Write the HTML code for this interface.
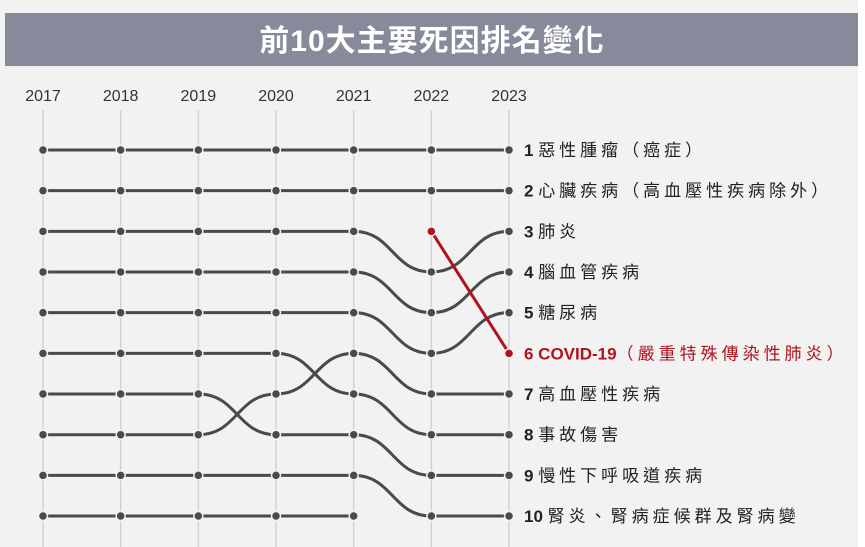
<!DOCTYPE html>
<html><head><meta charset="utf-8"><style>
html,body{margin:0;padding:0;background:#fff;}
svg{display:block;font-family:"Liberation Sans","Noto Sans CJK TC",sans-serif;}
</style></head><body>
<svg id="chart" width="865" height="547" viewBox="0 0 865 547">
<rect x="0" y="0" width="858" height="547" fill="#f2f2f2"/>
<rect x="5" y="13" width="853" height="53" fill="#878a9a"/>
<text x="432" y="51" text-anchor="middle" fill="#fff" font-size="30" font-weight="bold" letter-spacing="1" font-family="'Liberation Sans','Noto Sans CJK TC',sans-serif">前10大主要死因排名變化</text>
<g id="grid"></g><g id="lines"></g><g id="dots"></g><g id="labels"></g>
</svg>
<script>
const years = ["2017","2018","2019","2020","2021","2022","2023"];
const cancer = [1,1,1,1,1,1,1];
const heart = [2,2,2,2,2,2,2];
const pneumonia = [3,3,3,3,3,4,3];
const stroke = [4,4,4,4,4,5,4];
const diabetes = [5,5,5,5,5,6,5];
const accident = [6,6,6,6,7,8,8];
const chronicResp = [7,7,7,8,8,9,9];
const hypertension = [8,8,8,7,6,7,7];
const kidney = [9,9,9,9,9,10,10];
const liver = [10,10,10,10,10,null,null];
const covid = [null,null,null,null,null,3,6];
const labelNames = ["惡性腫瘤（癌症）","心臟疾病（高血壓性疾病除外）","肺炎","腦血管疾病","糖尿病","COVID-19（嚴重特殊傳染性肺炎）","高血壓性疾病","事故傷害","慢性下呼吸道疾病","腎炎、腎病症候群及腎病變"];
const seriesNames = ["cancer","heart","pneumonia","stroke","diabetes","accident","chronic-resp","hypertension","kidney","liver","covid"];
const seriesList = [cancer,heart,pneumonia,stroke,diabetes,accident,chronicResp,hypertension,kidney,liver,covid];

const NS="http://www.w3.org/2000/svg";
const x0=43, dx=77.67, y0=150, dy=40.67;
function xs(i){return x0+i*dx;}
function ys(r){return y0+(r-1)*dy;}
function mk(tag,attrs,parent){const e=document.createElementNS(NS,tag);for(const k in attrs)e.setAttribute(k,attrs[k]);parent.appendChild(e);return e;}
const grid=document.getElementById('grid'),lines=document.getElementById('lines'),dots=document.getElementById('dots'),labels=document.getElementById('labels');

years.forEach((y,i)=>{
  const l=mk('line',{x1:xs(i),x2:xs(i),y1:110,y2:547,stroke:'#d2d2d2','stroke-width':1.5},grid);
  
  
  const t=mk('text',{x:xs(i),y:101,'text-anchor':'middle','font-size':16,fill:'#333'},grid);
  t.textContent=y;
  
  
});

seriesList.forEach((s,si)=>{
  const color = seriesNames[si]==='covid' ? '#b0131d' : '#4a4a4a';
  let d='';
  let prev=null;
  s.forEach((r,i)=>{
    if(r==null){prev=null;return;}
    const x=xs(i),y=ys(r);
    if(prev==null){d+=`M${x},${y}`;}
    else if(seriesNames[si]==='covid'){d+=` L${x},${y}`;}
    else{const px=xs(i-1),py=ys(prev),mx=(px+x)/2;d+=` C${mx},${py} ${mx},${y} ${x},${y}`;}
    prev=r;
  });
  const p=mk('path',{d:d,fill:'none',stroke:color,'stroke-width':3},lines);
  
  
  s.forEach((r,i)=>{
    if(r==null)return;
    const c=mk('circle',{cx:xs(i),cy:ys(r),r:4.5,fill:color,stroke:'#f2f2f2','stroke-width':1.5},dots);
    
    
  });
});

labelNames.forEach((n,i)=>{
  const red = i===5;
  const t=mk('text',{x:524,y:ys(i+1)+6,'font-size':17,fill:red?'#b0131d':'#222'},labels);
  
  
  const b=mk('tspan',{'font-weight':'bold'},t);
  b.textContent=(i+1)+' '+(red?'COVID-19':'');
  const r=mk('tspan',{'letter-spacing':4},t);
  r.textContent=red?n.replace('COVID-19',''):n;
});
</script>
</body></html>
